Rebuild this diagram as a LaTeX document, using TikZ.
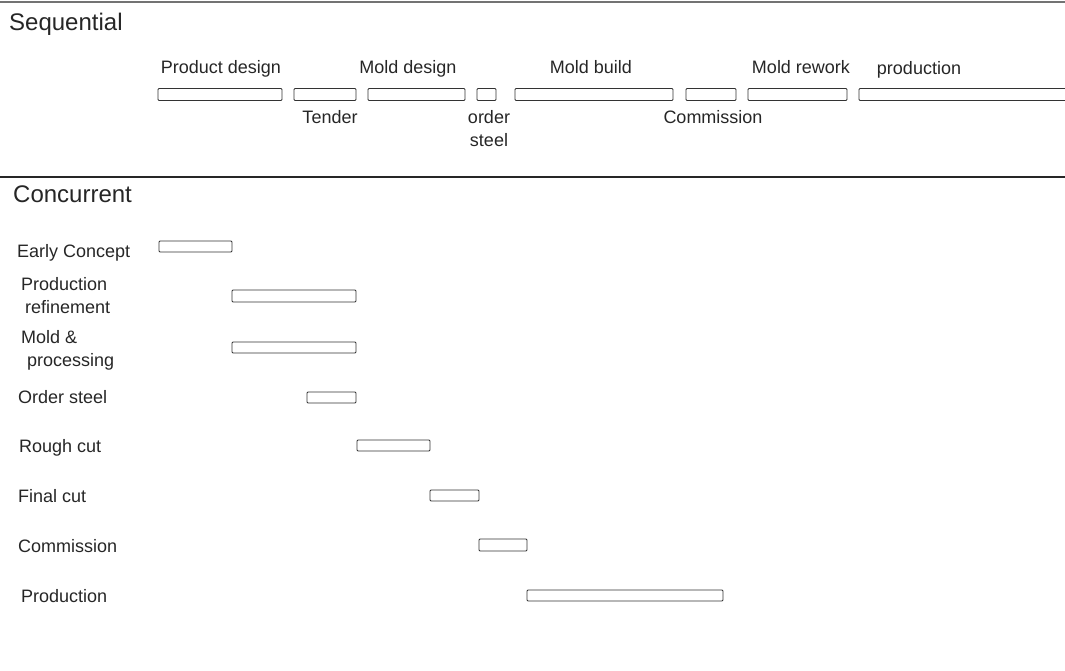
\documentclass[tikz,border=0pt]{standalone}
\usepackage{fontspec}
\setmainfont{Liberation Sans}
\begin{document}
\begin{tikzpicture}[x=1pt,y=-1pt,
  lbl/.style={font=\fontsize{18}{23}\selectfont, inner sep=0pt, text=black!85},
  heading/.style={font=\fontsize{24}{28}\selectfont, inner sep=0pt, anchor=base west, text=black!85},
  bar/.style={draw=black!80, line width=0.9pt, fill=white, rounded corners=1pt, inner sep=0pt},
  rule/.style={line width=1.1pt}]
\useasboundingbox (0,0) rectangle (1065,671);
% section rules
\coordinate (r1a) at (0,2);   \coordinate (r1b) at (1065,2);
\coordinate (r2a) at (0,177); \coordinate (r2b) at (1065,177);
\draw[rule, black!55] (r1a) -- (r1b);
\draw[rule, black!85] (r2a) -- (r2b);

% ---------- Sequential ----------
\node[heading] (hseq) at (9,31) {Sequential};
\foreach \nm/\xa/\xb in {sA/158/282, sB/294/356, sC/368/465, sD/477/496, sE/515/673, sF/686/736, sG/748/847, sH/859/1068}{
  \node[bar, minimum width={\xb-\xa}, minimum height=12] (\nm) at ({(\xa+\xb)/2},94.5) {};
}
\node[lbl, anchor=base] (lA) at (221,74) {Product design};
\node[lbl, anchor=base] (lC) at (408,74) {Mold design};
\node[lbl, anchor=base] (lE) at (591,74) {Mold build};
\node[lbl, anchor=base] (lG) at (801,74) {Mold rework};
\node[lbl, anchor=base] (lH) at (919,75) {production};
\node[lbl, anchor=base] (lB) at (330,124) {Tender};
\node[lbl, anchor=base, align=center] (lD) at (489,147) {order\\steel};
\node[lbl, anchor=base] (lF) at (713,124) {Commission};

% ---------- Concurrent ----------
\node[heading] (hcon) at (13,203) {Concurrent};
\foreach \nm/\xa/\xb/\ya/\yb in {c1/159/232/241/252, c2/232/356/290/302, c3/232/356/342/353,
  c4/307/356/392/403, c5/357/430/440/451, c6/430/479/490/501, c7/479/527/539/551, c8/527/723/590/601}{
  \node[bar, minimum width={\xb-\xa}, minimum height={\yb-\ya}] (\nm) at ({(\xa+\xb)/2},{(\ya+\yb)/2}) {};
}
\node[lbl, anchor=base west] (t1) at (17,257) {Early Concept};
\node[lbl, anchor=base west, align=left] (t2) at (21,313) {Production\\\hspace{4pt}refinement};
\node[lbl, anchor=base west, align=left] (t3) at (21,366) {Mold \&\\\hspace{6pt}processing};
\node[lbl, anchor=base west] (t4) at (18,403) {Order steel};
\node[lbl, anchor=base west] (t5) at (19,452) {Rough cut};
\node[lbl, anchor=base west] (t6) at (18,502) {Final cut};
\node[lbl, anchor=base west] (t7) at (18,552) {Commission};
\node[lbl, anchor=base west] (t8) at (21,602) {Production};
\end{tikzpicture}
\end{document}
